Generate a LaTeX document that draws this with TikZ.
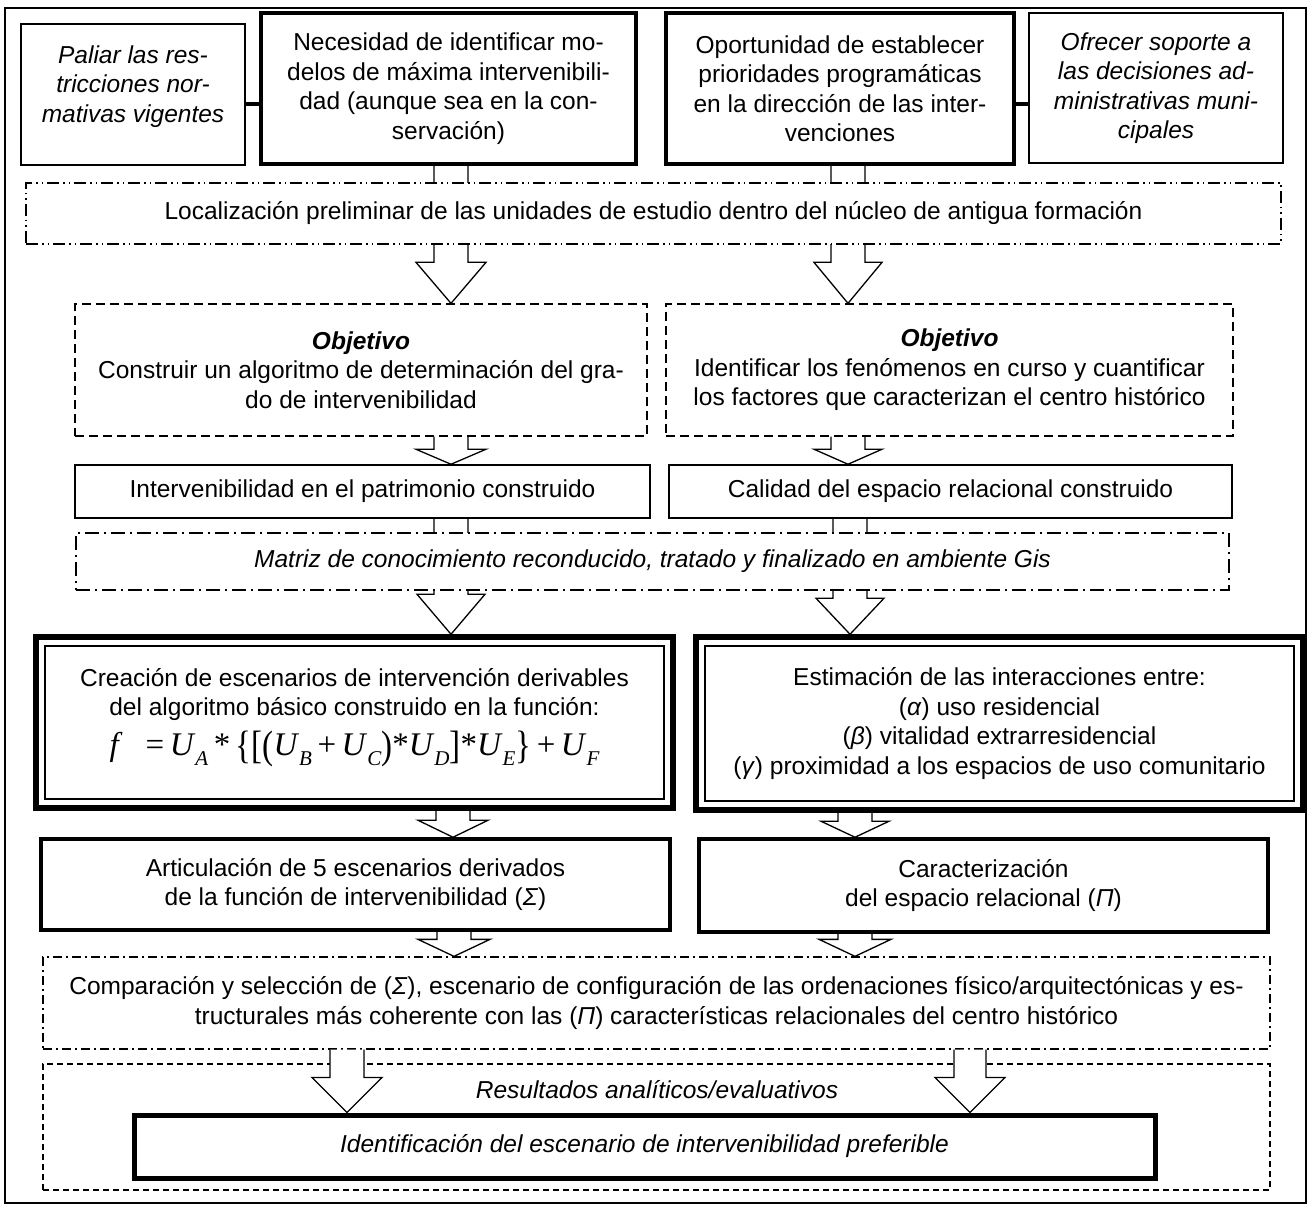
\documentclass[tikz,border=0pt]{standalone}
\usepackage{fontspec}
\setmainfont{Liberation Sans}
\newfontfamily\tms{Liberation Serif}
\usetikzlibrary{positioning,calc,backgrounds}

% block arrow: x, from node, to node, head length, shaft half width, head half width
\newcommand{\barrow}[6]{%
  \draw[blk] let \p1=(#2.south), \p2=(#3.north) in
    (#1pt-#5pt,\y1) -- (#1pt-#5pt,\y2+#4pt) -- (#1pt-#6pt,\y2+#4pt) -- (#1pt,\y2)
    -- (#1pt+#6pt,\y2+#4pt) -- (#1pt+#5pt,\y2+#4pt) -- (#1pt+#5pt,\y1);}
% formula pieces
\newcommand{\sub}[1]{\raisebox{-0.3em}{\fontsize{21}{21}\selectfont\itshape #1}}
\newcommand{\bk}[1]{\raisebox{-0.1em}{\scalebox{1}[1.2]{#1}}}

\begin{document}
\begin{tikzpicture}[x=1pt, y=-1pt,
    every node/.style={font=\fontsize{24.5}{29.5}\selectfont, inner sep=0pt, align=center},
    ital/.style={font=\fontsize{24.5}{29.5}\selectfont\itshape},
    thinbox/.style={draw, line width=1.5pt, fill=white},
    thickbox/.style={draw, line width=3.5pt, fill=white},
    heavybox/.style={draw, line width=5pt, fill=white},
    dblbox/.style={draw, line width=5.5pt, fill=white,
        path picture={\draw[line width=1.5pt]
            ([shift={(9pt,-9pt)}]path picture bounding box.north west) rectangle
            ([shift={(-9pt,9pt)}]path picture bounding box.south east);}},
    locbox/.style={draw, line width=1.3pt, fill=white,
        dash pattern=on 12pt off 4pt on 1.5pt off 4pt on 1.5pt off 4pt},
    matbox/.style={draw, line width=1.3pt, fill=white,
        dash pattern=on 14pt off 5pt on 2pt off 5pt},
    objbox/.style={draw, line width=1.3pt, fill=white, dash pattern=on 9pt off 5pt},
    compbox/.style={draw, line width=1.3pt, fill=white,
        dash pattern=on 9pt off 4pt on 2pt off 4pt},
    resbox/.style={draw, line width=1.3pt, dash pattern=on 6pt off 4pt},
    blk/.style={draw, line width=1.3pt, fill=white, line join=miter}
]
    \useasboundingbox (0,0) rectangle (1312,1206);

    % top row
    \node[thinbox, ital, minimum width=224pt, minimum height=141pt] (pal) at (133,94.5)
        {Paliar las res-\\tricciones nor-\\mativas vigentes\\[-8pt]~};
    \node[thickbox, minimum width=375pt, minimum height=151pt] (nec) at (448.5,88.5)
        {Necesidad de identificar mo-\\delos de máxima intervenibili-\\dad (aunque sea en la con-\\servación)};
    \node[thickbox, minimum width=348pt, minimum height=151pt] (opo) at (840,88.5)
        {Oportunidad de establecer\\prioridades programáticas\\en la dirección de las inter-\\venciones};
    \node[thinbox, ital, minimum width=254pt, minimum height=150pt] (ofr) at (1156,88)
        {Ofrecer soporte a\\las decisiones ad-\\ministrativas muni-\\cipales};

    \draw[line width=3.5pt] (pal.east |- 0,104) -- (nec.west |- 0,104);
    \draw[line width=3.5pt] (opo.east |- 0,104) -- (ofr.west |- 0,104);

    \node[locbox, minimum width=1255pt, minimum height=61pt] (loc) at (653.5,213.5)
        {Localización preliminar de las unidades de estudio dentro del núcleo de antigua formación};

    % objectives
    \node[objbox, minimum width=572pt, minimum height=132pt] (objA) at (361,370)
        {\textbf{\textit{Objetivo}}\\Construir un algoritmo de determinación del gra-\\do de intervenibilidad};
    \node[objbox, minimum width=567pt, minimum height=132pt] (objB) at (949.5,370)
        {\textbf{\textit{Objetivo}}\\Identificar los fenómenos en curso y cuantificar\\los factores que caracterizan el centro histórico};

    \node[thinbox, minimum width=575pt, minimum height=53pt] (intA) at (362.5,491.5)
        {Intervenibilidad en el patrimonio construido};
    \node[thinbox, minimum width=563pt, minimum height=53pt] (intB) at (950.5,491.5)
        {Calidad del espacio relacional construido};

    \node[matbox, ital, minimum width=1153pt, minimum height=57pt] (mat) at (652.5,561.5)
        {Matriz de conocimiento reconducido, tratado y finalizado en ambiente Gis};

    % scenarios
    \node[dblbox, minimum width=637pt, minimum height=171pt] (cre) at (354.5,722.5)
        {Creación de escenarios de intervención derivables\\del algoritmo básico construido en la función:\\[10pt]
        {\tms\fontsize{33}{33}\selectfont \textit{f}\hspace{0.7em}=\,\textit{U}\sub{A}\,*\,\bk{\{}\bk{[}\bk{(}\textit{U}\sub{B}\,+\,\textit{U}\sub{C}\bk{)}*\textit{U}\sub{D}\bk{]}*\textit{U}\sub{E}\bk{\}}\,+\,\textit{U}\sub{F}}\\[-8pt]~};
    \node[dblbox, minimum width=607pt, minimum height=173pt] (est) at (999.5,723.5)
        {Estimación de las interacciones entre:\\(\textit{α}) uso residencial\\(\textit{β}) vitalidad extrarresidencial\\(\textit{γ}) proximidad a los espacios de uso comunitario};

    \node[thickbox, minimum width=629pt, minimum height=91pt] (art) at (355.5,884.5)
        {Articulación de 5 escenarios derivados\\de la función de intervenibilidad (\textit{Σ})};
    \node[thickbox, minimum width=569pt, minimum height=93pt] (car) at (983.5,885.5)
        {Caracterización\\del espacio relacional (\textit{Π})};

    \node[compbox, minimum width=1227pt, minimum height=92pt] (comp) at (656.5,1003)
        {Comparación y selección de (\textit{Σ}), escenario de configuración de las ordenaciones físico/arquitectónicas y es-\\tructurales más coherente con las (\textit{Π}) características relacionales del centro histórico};

    % results
    \node[resbox, minimum width=1227pt, minimum height=126pt] (res) at (656.5,1127) {};
    \node[ital] (restit) at (657,1090) {Resultados analíticos/evaluativos};
    \node[heavybox, ital, minimum width=1021pt, minimum height=63pt] (ident) at (644.5,1146.5)
        {Identificación del escenario de intervenibilidad preferible};

    \begin{scope}[on background layer]
        \draw[line width=1.5pt] (5,8) rectangle (1306,1203);
        \barrow{451}{nec}{objA}{41}{17}{35}
        \barrow{848}{opo}{objB}{41}{17}{34}
        \barrow{451}{objA}{intA}{15}{17}{35}
        \barrow{848}{objB}{intB}{15}{17}{34}
        \barrow{451}{intA}{cre}{40}{17}{34}
        \barrow{850}{intB}{est}{36}{17}{34}
        \barrow{453}{cre}{art}{17}{17}{35}
        \barrow{855}{est}{car}{16}{17}{34}
        \barrow{454}{art}{comp}{17}{17}{36}
        \barrow{855}{car}{comp}{17}{17}{36}
    \end{scope}
    \barrow{347}{comp}{ident}{35}{17}{35}
    \barrow{970}{comp}{ident}{35}{16}{35}
\end{tikzpicture}
\end{document}
